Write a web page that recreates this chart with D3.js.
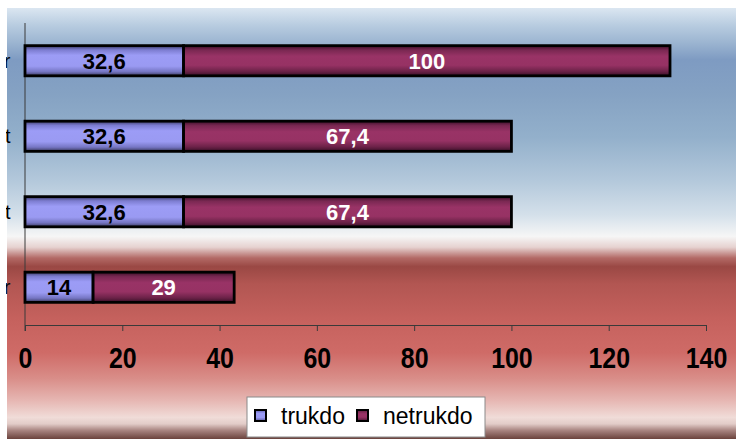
<!DOCTYPE html>
<html><head><meta charset="utf-8">
<script src="https://cdn.jsdelivr.net/npm/d3@7"></script>
<style>body{margin:0;background:#fff}svg{display:block}</style></head><body>
<svg id="c" width="736" height="439"></svg>
<script>
const categories = ["Iš viso r", "Vyrai ir kt", "Moterys ir kt", "Kiti r"];
const seriesNames = ["trukdo", "netrukdo"];
const trukdo = [32.6, 32.6, 32.6, 14];
const netrukdo = [100, 67.4, 67.4, 29];
const xTicks = [0, 20, 40, 60, 80, 100, 120, 140];

const svg = d3.select("#c");
const defs = svg.append("defs");
const W = 736, H = 439;
const fmt = v => String(v).replace(".", ",");

// background gradient
const bgStops = [
  [0, "#dbe6f1"], [0.04, "#b8cce0"], [0.08, "#9cb5d1"], [0.12, "#7e9bc2"],
  [0.2, "#85a2c3"], [0.3, "#93b0cb"], [0.4, "#b3c8db"], [0.48, "#d4e0ea"],
  [0.53, "#f6f6f6"], [0.555, "#e6d2d0"], [0.58, "#b36a66"], [0.6, "#9a4844"],
  [0.64, "#b25652"], [0.72, "#c5615d"], [0.8, "#cf6b67"], [0.86, "#d98e89"],
  [0.91, "#e6b6b2"], [0.95, "#f0dcd8"], [0.965, "#e2ccc8"], [0.98, "#a88480"], [1, "#6a423c"]
];
const bg = defs.append("linearGradient").attr("id", "bg").attr("x1", 0).attr("y1", 0).attr("x2", 0).attr("y2", 1);
bgStops.forEach(s => bg.append("stop").attr("offset", s[0]).attr("stop-color", s[1]));
svg.append("rect").attr("x", 7).attr("y", 8).attr("width", W - 7).attr("height", H - 8).attr("fill", "url(#bg)");

// bar gradients
function barGrad(id, stops) {
  const g = defs.append("linearGradient").attr("id", id).attr("x1", 0).attr("y1", 0).attr("x2", 0).attr("y2", 1);
  stops.forEach(s => g.append("stop").attr("offset", s[0]).attr("stop-color", s[1]));
}
barGrad("gT", [[0, "#3c3c66"], [0.14, "#7c7cd0"], [0.32, "#9c9cf6"], [0.68, "#9a9af2"], [0.86, "#7676c4"], [1, "#3a3a5e"]]);
barGrad("gN", [[0, "#3c1028"], [0.15, "#7a2852"], [0.35, "#993366"], [0.65, "#973264"], [0.85, "#6c2248"], [1, "#3a1028"]]);

defs.append("clipPath").attr("id", "lblclip").append("rect")
  .attr("x", 6).attr("y", 0).attr("width", 20).attr("height", H);

const x = d3.scaleLinear().domain([0, 140]).range([25, 706]);
const y = d3.scaleBand().domain(categories).range([23, 325]).paddingInner(0.6).paddingOuter(0.3);

// axes
svg.append("line").attr("x1", x(0)).attr("x2", x(0)).attr("y1", 23).attr("y2", 331)
  .attr("stroke", "#3a3a3a").attr("stroke-width", 1);
const xAxis = svg.append("g").attr("transform", "translate(0,325)")
  .call(d3.axisBottom(x).tickValues(xTicks).tickSizeInner(6).tickSizeOuter(0).tickFormat(fmt));
xAxis.select(".domain").attr("stroke", "#3a3a3a");
xAxis.selectAll(".tick line").attr("stroke", "#3a3a3a");
xAxis.selectAll(".tick text").attr("y", 43).attr("dy", null).attr("transform", "scale(0.86,1)")
  .attr("fill", "#000").style("font-family", "'Liberation Sans',Arial,sans-serif")
  .style("font-weight", "bold").style("font-size", "29px");

// category labels (cut off at left edge, as in the reference)
svg.append("g").attr("clip-path", "url(#lblclip)").selectAll("text").data(categories).join("text")
  .attr("x", 10.5).attr("y", d => y(d) + y.bandwidth() / 2).attr("dy", "0.35em")
  .attr("text-anchor", "end").attr("fill", "#000")
  .style("font-family", "'Liberation Sans',Arial,sans-serif").style("font-size", "20px")
  .text(d => d);

// bars
const rows = categories.map((c, i) => ({ c, t: trukdo[i], n: netrukdo[i] }));
const g = svg.append("g");
g.selectAll("rect.t").data(rows).join("rect").attr("class", "t")
  .attr("x", d => x(0)).attr("y", d => y(d.c)).attr("width", d => x(d.t) - x(0)).attr("height", y.bandwidth())
  .attr("fill", "url(#gT)").attr("stroke", "#000").attr("stroke-width", 2.8);
g.selectAll("rect.n").data(rows).join("rect").attr("class", "n")
  .attr("x", d => x(d.t)).attr("y", d => y(d.c)).attr("width", d => x(d.t + d.n) - x(d.t)).attr("height", y.bandwidth())
  .attr("fill", "url(#gN)").attr("stroke", "#000").attr("stroke-width", 2.8);

const lblFont = "'Liberation Sans',Arial,sans-serif";
g.selectAll("text.t").data(rows).join("text").attr("class", "t")
  .attr("x", d => (x(0) + x(d.t)) / 2).attr("y", d => y(d.c) + y.bandwidth() / 2).attr("dy", "0.36em")
  .attr("text-anchor", "middle").attr("fill", "#000")
  .style("font-family", lblFont).style("font-weight", "bold").style("font-size", "22px")
  .text(d => fmt(d.t));
g.selectAll("text.n").data(rows).join("text").attr("class", "n")
  .attr("x", d => (x(d.t) + x(d.t + d.n)) / 2).attr("y", d => y(d.c) + y.bandwidth() / 2).attr("dy", "0.36em")
  .attr("text-anchor", "middle").attr("fill", "#fff")
  .style("font-family", lblFont).style("font-weight", "bold").style("font-size", "22px")
  .text(d => fmt(d.n));

// legend
const lg = svg.append("g");
lg.append("rect").attr("x", 247).attr("y", 397).attr("width", 238).attr("height", 40)
  .attr("fill", "#fff").attr("stroke", "#8a8a8a").attr("stroke-width", 1);
const legendItems = [{ name: seriesNames[0], fill: "url(#gT)", x: 255, tx: 281 }, { name: seriesNames[1], fill: "url(#gN)", x: 357, tx: 383 }];
legendItems.forEach(it => {
  lg.append("rect").attr("x", it.x).attr("y", 410).attr("width", 11).attr("height", 11)
    .attr("fill", it.fill).attr("stroke", "#000").attr("stroke-width", 2);
  lg.append("text").attr("x", it.tx).attr("y", 424).attr("fill", "#000")
    .style("font-family", "'Liberation Sans',Arial,sans-serif").style("font-size", "23px").text(it.name);
});
</script>
</body></html>
